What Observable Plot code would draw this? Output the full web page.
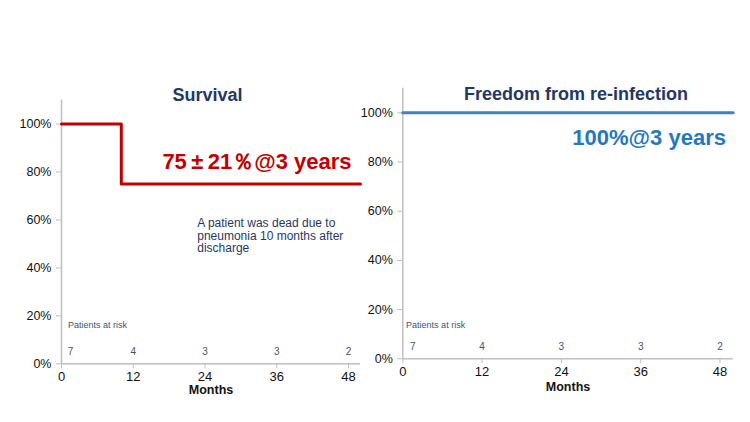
<!DOCTYPE html>
<html>
<head>
<meta charset="utf-8">
<script src="https://cdn.jsdelivr.net/npm/d3@7"></script>
<script src="https://cdn.jsdelivr.net/npm/@observablehq/plot@0.6"></script>
<style>
  html, body { margin: 0; padding: 0; background: #fff; }
  #wrap { position: relative; width: 750px; height: 422px; overflow: hidden; background: #fff; }
  #wrap svg { position: absolute; top: 0; }
</style>
</head>
<body>
<div id="wrap"></div>
<script>
// ---- data ----
const monthTicks = [0, 12, 24, 36, 48];
const pctTicks = [0, 20, 40, 60, 80, 100];
const survivalMonths = [0, 10, 50];
const survivalPct = [100, 75, 75];
const reinfMonths = [0, 50];
const reinfPct = [100, 100];
const riskMonths = [1.5, 12, 24, 36, 48];
const riskCounts = [7, 4, 3, 3, 2];
const titles = ["Survival", "Freedom from re-infection"];
const stats = ["75\u2009\u00B1\u200921\uFF05@3 years", "100%@3 years"];
const note = "A patient was dead due to\npneumonia 10 months after\ndischarge";

const FONT = "'Liberation Sans', Arial, Helvetica, sans-serif";
const NAVY = "#1F3864";
const AXIS = "#BFBFBF";

function panel(o) {
  const curve = o.months.map((m, i) => ({m, p: o.pct[i]}));
  const risk = riskMonths.map((m, i) => ({m, n: riskCounts[i]}));
  const marks = [
    Plot.ruleY([0], {x1: 0, x2: 50, stroke: AXIS, strokeWidth: 1.5}),
    Plot.ruleX([0], {y1: 0, y2: 110, stroke: AXIS, strokeWidth: 1.5}),
    Plot.axisX({ticks: monthTicks, tickSize: 5, tickPadding: 3, stroke: AXIS, fill: "#111", fontSize: 13, label: null}),
    Plot.axisY({ticks: pctTicks, tickFormat: d => d + "%", tickSize: 5, tickPadding: 5, stroke: AXIS, fill: "#111", fontSize: 12.5, label: null}),
    Plot.line(curve, {x: "m", y: "p", curve: "step-after", stroke: o.lineColor, strokeWidth: 3}),
    Plot.text([o.title], {x: o.titleX, y: o.titleY, text: d => d, fontSize: 18, fontWeight: "bold", fill: NAVY}),
    Plot.text([o.stat], {x: o.statX, y: o.statY, text: d => d, textAnchor: "end", fontSize: 22, fontWeight: "bold", fill: o.statColor}),
    Plot.text(["Patients at risk"], {x: o.riskLabelX, y: o.riskLabelY, text: d => d, textAnchor: "start", fontSize: 9, fill: "#44546A"}),
    Plot.text(risk, {x: "m", y: o.riskY, text: "n", fontSize: 10, fill: "#44546A"}),
    Plot.text(["Months"], {x: 25, frameAnchor: "bottom", dy: o.monthsDy, text: d => d, fontSize: 12.5, fontWeight: "bold", fill: "#111"})
  ];
  if (o.note) {
    marks.push(Plot.text([o.note], {x: 22.7, y: 53.5, text: d => d, textAnchor: "start", lineAnchor: "middle", fontSize: 12, lineHeight: 1.05, fill: NAVY}));
  }
  const svg = Plot.plot({
    width: o.width,
    height: 422,
    marginLeft: o.ml, marginRight: o.mr, marginTop: o.mt, marginBottom: o.mb,
    x: {domain: [0, 50]},
    y: {domain: [0, 110]},
    style: {fontFamily: FONT, background: "transparent", overflow: "visible"},
    marks
  });
  svg.style.left = o.left + "px";
  return svg;
}

const wrap = document.getElementById("wrap");
wrap.appendChild(panel({
  left: 0, width: 370, ml: 61, mr: 10, mt: 99.5, mb: 58.7,
  months: survivalMonths, pct: survivalPct, lineColor: "#C00000",
  title: titles[0], titleX: 24.4, titleY: 111.8,
  stat: stats[0], statX: 48.5, statY: 84.3, statColor: "#C00000",
  riskLabelX: 1.1, riskLabelY: 16, riskY: 4.8,
  monthsDy: 30, note
}));
wrap.appendChild(panel({
  left: 370, width: 380, ml: 32.3, mr: 17.3, mt: 87.7, mb: 63.7,
  months: reinfMonths, pct: reinfPct, lineColor: "#4A7EBB",
  title: titles[1], titleX: 26.2, titleY: 107.4,
  stat: stats[1], statX: 48.9, statY: 89.8, statColor: "#2378C0",
  riskLabelX: 0.5, riskLabelY: 13.5, riskY: 4.9,
  monthsDy: 32, note: null
}));
</script>
</body>
</html>
